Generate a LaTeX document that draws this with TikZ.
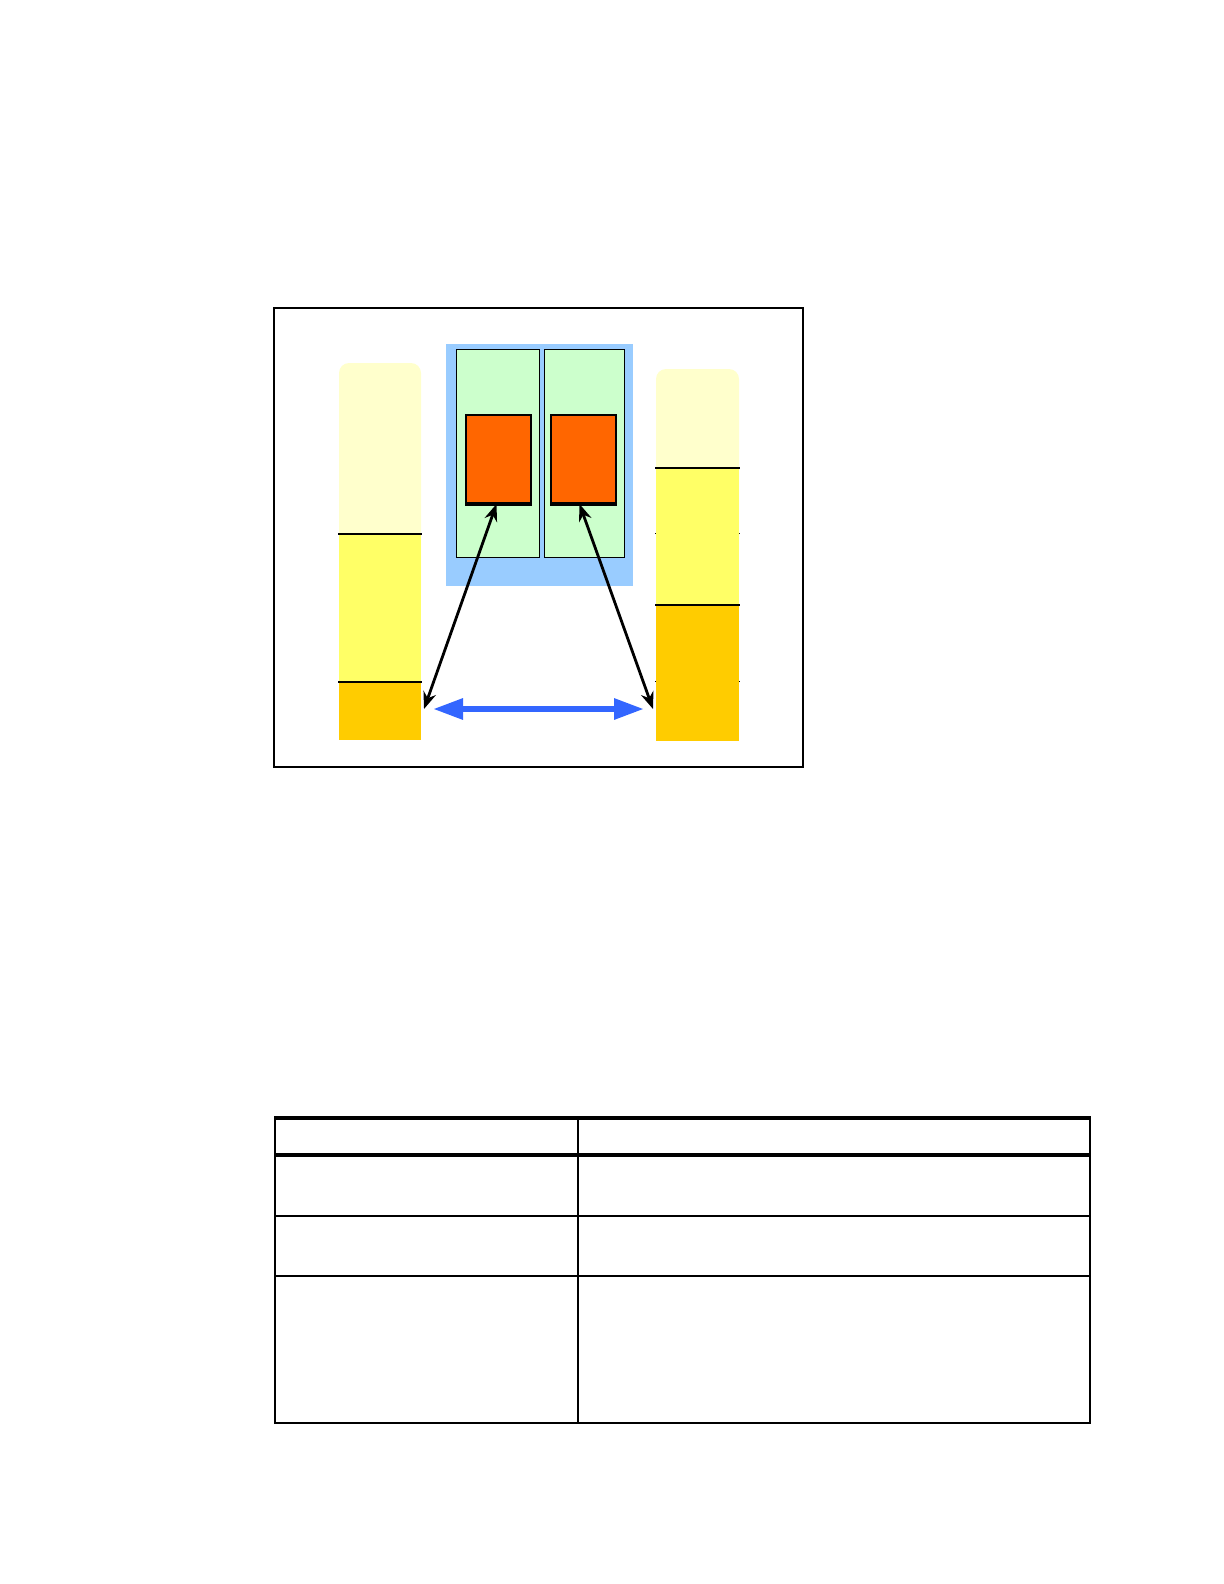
\documentclass[tikz,border=0pt]{standalone}
\usetikzlibrary{arrows.meta}

\definecolor{paleyellow}{HTML}{FFFFCC}
\definecolor{midyellow}{HTML}{FFFF66}
\definecolor{gold}{HTML}{FFCC00}
\definecolor{skyblue}{HTML}{99CCFF}
\definecolor{mint}{HTML}{CCFFCC}
\definecolor{chiporange}{HTML}{FF6600}
\definecolor{linkblue}{HTML}{3366FF}

\begin{document}
\begin{tikzpicture}[x=0.5pt, y=-0.5pt,
  rack/.style={fill=skyblue, inner sep=0pt, minimum width=93.5pt, minimum height=121pt},
  board/.style={draw=black, line width=0.5pt, fill=mint, inner sep=0pt, minimum height=104pt},
  chip/.style={draw=black, line width=1pt, fill=chiporange, inner sep=0pt, minimum width=32.5pt, minimum height=44pt},
  access/.style={{Stealth[length=8.5pt,width=6.5pt]}-{Stealth[length=8.5pt,width=6.5pt]}, line width=1.4pt},
  link/.style={{Triangle[length=15pt,width=10pt]}-{Triangle[length=15pt,width=10pt]}, line width=3pt, linkblue}]
  \useasboundingbox (0,0) rectangle (1224,1584);

  % Outer frame of the figure
  \draw[line width=0.7pt] (274,308) rectangle (803,767);

  % Left column (three bands, rounded top)
  \fill[paleyellow, rounded corners=5pt] (339,363) rectangle (421,600);
  \fill[midyellow] (339,534) rectangle (421,682);
  \fill[gold] (339,682) rectangle (421,740);
  \draw[line width=0.8pt] (338,534) -- (422,534);
  \draw[line width=0.8pt] (338,682) -- (422,682);

  % Right column (three bands, rounded top)
  \draw[line width=0.5pt] (655,533) -- (740,533);
  \draw[line width=0.5pt] (655,681) -- (740,681);
  \fill[paleyellow, rounded corners=5pt] (656,369) rectangle (739,560);
  \fill[midyellow] (656,468) rectangle (739,605);
  \fill[gold] (656,605) rectangle (739,741);
  \draw[line width=1.2pt] (655,468) -- (740,468);
  \draw[line width=1.3pt] (655,605) -- (740,605);

  % Rack with two boards and their chips
  \node[rack] (rack) at (539.5,465) {};
  \node[board, minimum width=41.5pt] (lboard) at (497.5,453) {};
  \node[board, minimum width=40pt] (rboard) at (584,453) {};
  \node[chip] (lchip) at (498.5,459) {};
  \node[chip] (rchip) at (583.5,459) {};
  \draw[line width=1.6pt] (lchip.south west) -- (lchip.south east);
  \draw[line width=1.6pt] (rchip.south west) -- (rchip.south east);

  % Ports on the columns
  \coordinate (lport) at (424,709);
  \coordinate (rport) at (653,709);

  % Access arrows and the link between columns
  \draw[access] ([xshift=-1pt]lchip.south) -- (lport);
  \draw[access] ([xshift=-2pt]rchip.south) -- (rport);
  \draw[link, shorten <=4.5pt, shorten >=4.5pt] (lport) -- (rport);

  % Empty table below
  \draw[line width=1.3pt] (275,1118) rectangle (1090,1423);
  \draw[line width=2.2pt] (274,1118) -- (1091,1118);
  \draw[line width=2.2pt] (275,1155) -- (1090,1155);
  \draw[line width=1.3pt] (275,1216) -- (1090,1216);
  \draw[line width=1.3pt] (275,1276) -- (1090,1276);
  \draw[line width=1.3pt] (578,1118) -- (578,1423);

\end{tikzpicture}
\end{document}
